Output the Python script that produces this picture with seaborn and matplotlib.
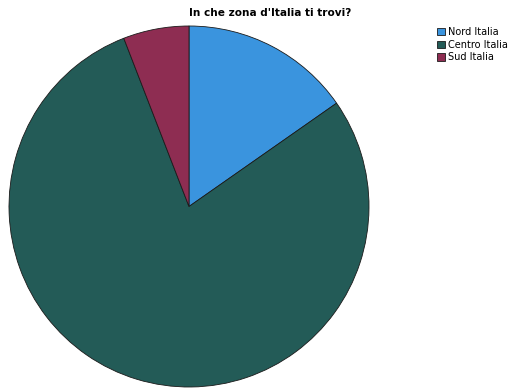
import matplotlib
matplotlib.use("Agg")
import matplotlib.pyplot as plt
import seaborn as sns

# Survey answers: share of respondents per area of Italy (%)
regions = ["Nord Italia", "Centro Italia", "Sud Italia"]
shares = [15.3, 78.8, 5.9]
colors = ["#3A94DE", "#235B57", "#8E2D52"]

sns.set_theme(style="white")
plt.rcParams["font.family"] = ["DejaVu Sans"]
plt.rcParams["text.color"] = "black"
palette = sns.color_palette(colors)

fig = plt.figure(figsize=(5.12, 3.89), dpi=100)
ax = fig.add_axes([9 / 512, 2 / 389, 360 / 512, 361 / 389])
wedges, _ = ax.pie(
    shares,
    colors=palette,
    startangle=90,
    counterclock=False,
    wedgeprops=dict(edgecolor="#1a1a1a", linewidth=0.6),
)
ax.set_xlim(-1.0, 1.0)
ax.set_ylim(-1.0, 1.0)
ax.set_aspect("auto")

fig.text(270 / 512, 1 - 13 / 389, "In che zona d'Italia ti trovi?",
         ha="center", va="center", fontsize=7.6, fontweight="bold",
         color="black")

leg = fig.legend(
    wedges, regions,
    loc="upper left", bbox_to_anchor=(435 / 512, 1 - 25 / 389),
    frameon=False, fontsize=7, handlelength=0.8, handleheight=0.8,
    handletextpad=0.35, labelspacing=0.28, borderpad=0.2, borderaxespad=0,
    labelcolor="black",
)

fig.savefig("out.png", dpi=100)
